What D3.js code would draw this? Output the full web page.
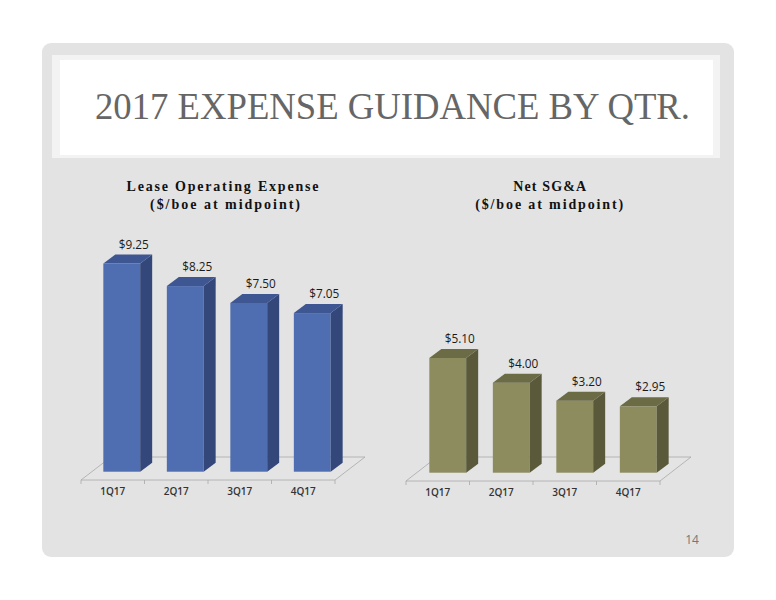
<!DOCTYPE html>
<html>
<head>
<meta charset="utf-8">
<script src="https://cdn.jsdelivr.net/npm/d3@7"></script>
<style>
  html, body { margin: 0; padding: 0; background: #ffffff; }
  svg { display: block; }
</style>
</head>
<body>
<svg id="chart" width="776" height="600"></svg>
<script>
// ---- data ----
const quarters = ["1Q17", "2Q17", "3Q17", "4Q17"];
const loeValues = [9.25, 8.25, 7.50, 7.05];
const sgaValues = [5.10, 4.00, 3.20, 2.95];
const slideTitle = "2017 EXPENSE GUIDANCE BY QTR.";
const loeTitle = ["Lease Operating Expense", "($/boe at midpoint)"];
const sgaTitle = ["Net SG&A", "($/boe at midpoint)"];
const pageNumber = "14";

const svg = d3.select("#chart");

// ---- slide background ----
svg.append("rect").attr("x", 42).attr("y", 43).attr("width", 692).attr("height", 514)
  .attr("rx", 9).attr("fill", "#e3e3e3");
svg.append("rect").attr("x", 52).attr("y", 55).attr("width", 668).attr("height", 103)
  .attr("fill", "#f3f3f3");
svg.append("rect").attr("x", 60).attr("y", 60).attr("width", 653).attr("height", 95)
  .attr("fill", "#ffffff");
svg.append("text").attr("x", 95).attr("y", 119)
  .attr("font-family", "Liberation Serif, serif").attr("font-size", 37)
  .attr("fill", "#666666")
  .attr("textLength", 595).attr("lengthAdjust", "spacingAndGlyphs")
  .text(slideTitle);
svg.append("text").attr("x", 692).attr("y", 544).attr("text-anchor", "middle")
  .attr("font-family", "Open Sans, sans-serif").attr("font-size", 12)
  .attr("fill", "#777777").text(pageNumber);

// ---- chart builder ----
function drawChart(cfg) {
  const g = svg.append("g");
  const x = d3.scaleBand().domain(quarters).range([cfg.floorX0, cfg.floorX1])
    .paddingInner(0.42).paddingOuter(0.21);
  const y = d3.scaleLinear().domain([0, 10]).range([cfg.base, cfg.base - 225]);
  const bw = x.bandwidth();
  const shift = cfg.shift, dx = 12, dy = -9;
  const fdx = cfg.floorDx, fdy = cfg.floorDy, fy = cfg.floorY;

  // floor
  g.append("path")
    .attr("d", d3.line()([[cfg.floorX0, fy], [cfg.floorX1, fy], [cfg.floorX1 + fdx, fy + fdy], [cfg.floorX0 + fdx, fy + fdy]]) + "Z")
    .attr("fill", "#e4e4e4").attr("stroke", "#a8a8a8").attr("stroke-width", 0.8);
  // ticks
  const step = x.step();
  d3.range(quarters.length + 1).forEach(i => {
    const tx = cfg.floorX0 + i * step;
    g.append("line").attr("x1", tx).attr("x2", tx).attr("y1", fy).attr("y2", fy + 4)
      .attr("stroke", "#a8a8a8").attr("stroke-width", 0.8);
  });

  const data = quarters.map((q, i) => ({ q, v: cfg.values[i] }));
  const bars = g.selectAll("g.bar").data(data).join("g").attr("class", "bar");
  // front
  bars.append("rect")
    .attr("x", d => x(d.q) + shift).attr("y", d => y(d.v))
    .attr("width", bw).attr("height", d => y(0) - y(d.v))
    .attr("fill", cfg.front);
  // side
  bars.append("path").attr("d", d => {
    const x1 = x(d.q) + shift + bw, t = y(d.v), b = y(0);
    return d3.line()([[x1, t], [x1 + dx, t + dy], [x1 + dx, b + dy], [x1, b]]) + "Z";
  }).attr("fill", cfg.side);
  // top
  bars.append("path").attr("d", d => {
    const x0 = x(d.q) + shift, t = y(d.v);
    return d3.line()([[x0, t], [x0 + dx, t + dy], [x0 + bw + dx, t + dy], [x0 + bw, t]]) + "Z";
  }).attr("fill", cfg.top);
  // value labels
  bars.append("text")
    .attr("x", d => x(d.q) + shift + bw / 2 + 12).attr("y", d => y(d.v) - 15)
    .attr("text-anchor", "middle")
    .attr("font-family", "Open Sans, sans-serif").attr("font-size", 11.8)
    .attr("fill", "#1a1a1a")
    .text(d => "$" + d3.format(".2f")(d.v));
  // category labels
  g.selectAll("text.cat").data(quarters).join("text").attr("class", "cat")
    .attr("x", d => x(d) + bw / 2).attr("y", fy + 15)
    .attr("text-anchor", "middle")
    .attr("font-family", "Open Sans, sans-serif").attr("font-size", 10)
    .attr("font-weight", 600)
    .attr("fill", "#333333").text(d => d);

  // titles
  cfg.title.forEach((t, i) => {
    g.append("text").attr("x", cfg.titleX[i] - cfg.titleW[i] / 2).attr("y", 191 + i * 18)
      .attr("font-family", "Liberation Serif, serif").attr("font-size", 14)
      .attr("font-weight", "bold").attr("fill", "#111111")
      .attr("textLength", cfg.titleW[i]).attr("lengthAdjust", "spacing")
      .text(t);
  });
}

drawChart({
  values: loeValues, title: loeTitle, titleX: [222.5, 225], titleW: [192, 150],
  floorX0: 81, floorX1: 335, floorY: 480, floorDx: 30, floorDy: -23,
  base: 471.7, shift: 9,
  front: "#4f6db1", side: "#34477a", top: "#3e5692"
});
drawChart({
  values: sgaValues, title: sgaTitle, titleX: [549.7, 549.2], titleW: [73, 148],
  floorX0: 406, floorX1: 660, floorY: 481, floorDx: 31, floorDy: -24,
  base: 472.7, shift: 10,
  front: "#8c8c5e", side: "#5a5a3b", top: "#6b6b46"
});
</script>
</body>
</html>
